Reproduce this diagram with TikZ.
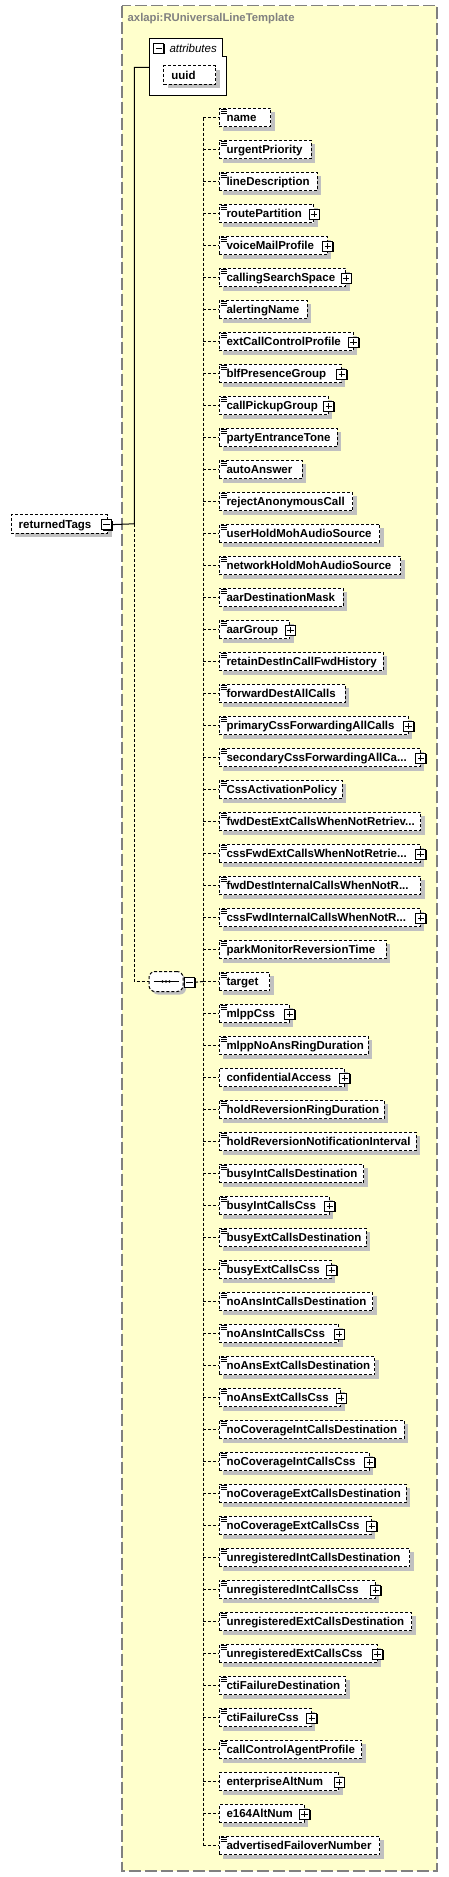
\documentclass[tikz,border=0pt]{standalone}
\usepackage{fontspec}
\setmainfont{Liberation Sans}
\usepackage{xcolor}
\usepackage{tikz}
\usetikzlibrary{shapes,calc,shadows}

\definecolor{diagbg}{HTML}{FFFFCC}
\definecolor{shadowgray}{HTML}{C0C0C0}
\definecolor{framegray}{HTML}{808080}
\newcommand{\trunc}{.{}.{}.}

\tikzset{
  elem/.style={draw, fill=white, rectangle, anchor=west, line width=1pt,
    dash pattern=on 3pt off 2pt, minimum height=18.5pt,
    inner xsep=7.5pt, inner ysep=2pt, text height=10pt, text depth=1.6pt,
    align=left, font=\fontsize{11.5}{13}\selectfont\bfseries,
    drop shadow={shadow xshift=4pt, shadow yshift=-4pt, fill=shadowgray, opacity=1}},
  simple/.style={path picture={
    \foreach \d in {1.4,3.2,5.0}
      \draw[solid, line width=0.7pt] ([xshift=1.5pt,yshift=-\d pt]path picture bounding box.north west) -- ++(6pt,0pt);}},
  kind s/.style={simple},
  kind c/.style={simple},
  kind p/.style={},
  toggle/.style={draw, fill=white, solid, line width=1pt, minimum size=10pt, inner sep=0pt,
    general shadow={shadow xshift=1pt, shadow yshift=-1pt, fill=black}},
  minusbox/.style={toggle, path picture={
    \draw[line width=1pt] ([xshift=1.8pt]path picture bounding box.west) -- ([xshift=-1.8pt]path picture bounding box.east);}},
  plusbox/.style={toggle, path picture={
    \draw[line width=1pt] ([xshift=1.8pt]path picture bounding box.west) -- ([xshift=-1.8pt]path picture bounding box.east);
    \draw[line width=1pt] ([yshift=-1.8pt]path picture bounding box.north) -- ([yshift=1.8pt]path picture bounding box.south);}},
  seqbox/.style={draw, fill=white, rectangle, rounded corners=6pt, line width=1pt,
    dash pattern=on 3pt off 2pt, minimum width=34pt, minimum height=20pt, inner sep=0pt,
    drop shadow={shadow xshift=3pt, shadow yshift=-3pt, fill=shadowgray, opacity=1}},
  tree/.style={line width=1pt},
  dashlink/.style={line width=1pt, dash pattern=on 3pt off 2pt}
}

\begin{document}
\begin{tikzpicture}[x=1pt, y=-1pt]
  \useasboundingbox (0,0) rectangle (448,1877);

  % 类型框
  \fill[diagbg] (122,5.7) rectangle (437,1871);
  \draw[framegray, line width=1.3pt, dash pattern=on 12pt off 4pt] (122,5.7) rectangle (437,1871);
  \node[anchor=west, inner sep=0pt, text=framegray, font=\fontsize{11.3}{13}\selectfont\bfseries] (title) at (127.5,19) {axlapi:RUniversalLineTemplate};

  % 根元素
  \node[elem, text width=81.6pt] (returnedTags) at (10.7,523.8) {\mbox{returnedTags}};
  \node[minusbox] (rootToggle) at ([xshift=-1.8pt,yshift=-0.8pt]returnedTags.east) {};
  \coordinate (trunk) at (134.3,523.8);

  % 属性
  \draw[line width=1pt, fill=white] (149.3,38.3) -- (222.3,38.3) -- (222.3,56.7) -- (226.7,56.7)
    -- (226.7,95.7) -- (149.3,95.7) -- cycle;
  \coordinate (attrs) at (149.3,67.3);
  \node[minusbox] (attrToggle) at (158.8,48) {};
  \node[anchor=west, inner sep=0pt, font=\fontsize{11.5}{13}\selectfont\itshape] (attrLabel) at (169.3,48.3) {attributes};
  \node[elem, text width=36.7pt] (uuid) at (163.3,74.8) {\mbox{uuid}};

  % 序列
  \node[seqbox] (seq) at (166,981.5) {};
  \draw[line width=1pt] ([xshift=5pt]seq.west) -- ([xshift=-5pt]seq.east);
  \foreach \dx in {-3.5,0,3.5}
    \fill ([xshift=\dx pt]seq.center) circle (1.3pt);
  \node[minusbox, anchor=west] (seqToggle) at ([xshift=0.5pt,yshift=-0.7pt]seq.east) {};
  \coordinate (bus) at (203.3,981.5);

  % 子元素
  \foreach \i/\nm/\w/\k in {
      1/name/51.5/s, 2/urgentPriority/92.2/s, 3/lineDescription/98.2/s,
      4/routePartition/94.5/c, 5/voiceMailProfile/108.2/c, 6/callingSearchSpace/126.5/c,
      7/alertingName/88.2/s, 8/extCallControlProfile/134/c, 9/blfPresenceGroup/122.2/c,
      10/callPickupGroup/109.2/c, 11/partyEntranceTone/118.2/s, 12/autoAnswer/83.2/s,
      13/rejectAnonymousCall/133.8/s, 14/userHoldMohAudioSource/160.5/s,
      15/networkHoldMohAudioSource/181.5/s, 16/aarDestinationMask/124.2/s,
      17/aarGroup/70.8/c, 18/retainDestInCallFwdHistory/164.2/s,
      19/forwardDestAllCalls/126.2/s, 20/primaryCssForwardingAllCalls/189/c,
      21/secondaryCssForwardingAllCa\trunc/201.2/c, 22/CssActivationPolicy/123.2/s,
      23/fwdDestExtCallsWhenNotRetriev\trunc/201.5/s, 24/cssFwdExtCallsWhenNotRetrie\trunc/201/c,
      25/fwdDestInternalCallsWhenNotR\trunc/201.5/s, 26/cssFwdInternalCallsWhenNotR\trunc/201.2/c,
      27/parkMonitorReversionTime/167.2/s, 28/target/50.8/s, 29/mlppCss/70.2/c,
      30/mlppNoAnsRingDuration/149.2/s, 31/confidentialAccess/125.3/p,
      32/holdReversionRingDuration/165.2/s, 33/holdReversionNotificationInterval/197.2/s,
      34/busyIntCallsDestination/144.8/s, 35/busyIntCallsCss/110.3/c,
      36/busyExtCallsDestination/147.2/s, 37/busyExtCallsCss/112.2/c,
      38/noAnsIntCallsDestination/153.8/s, 39/noAnsIntCallsCss/119.5/c,
      40/noAnsExtCallsDestination/155.8/s, 41/noAnsExtCallsCss/121.5/c,
      42/noCoverageIntCallsDestination/185.2/s, 43/noCoverageIntCallsCss/150.3/c,
      44/noCoverageExtCallsDestination/187.2/s, 45/noCoverageExtCallsCss/152.2/c,
      46/unregisteredIntCallsDestination/190.8/s, 47/unregisteredIntCallsCss/156.2/c,
      48/unregisteredExtCallsDestination/192.8/s, 49/unregisteredExtCallsCss/158/c,
      50/ctiFailureDestination/126.8/s, 51/ctiFailureCss/92.2/c,
      52/callControlAgentProfile/142.5/s, 53/enterpriseAltNum/119.5/p,
      54/e164AltNum/85/p, 55/advertisedFailoverNumber/160.8/s} {
    \pgfmathsetmacro\yy{117.5+32*(\i-1)}
    \pgfmathsetmacro\tw{\w-15}
    \node[elem, kind \k, text width=\tw pt] (el\i) at (218.5,\yy) {\mbox{\nm}};
    \if\k s\else\node[plusbox] (tog\i) at ([yshift=-0.5pt]el\i.east) {};\fi
    \draw[dashlink] (bus |- el\i.west) -- (el\i.west);
  }

  % 连线
  \draw[tree] (rootToggle.east) -- (trunk) |- (attrs);
  \draw[dashlink] (trunk) |- (seq.west);
  \draw[dashlink] (seqToggle.east) -- (bus);
  \draw[dashlink] (bus |- el1.west) -- (bus |- el55.west);
\end{tikzpicture}
\end{document}
